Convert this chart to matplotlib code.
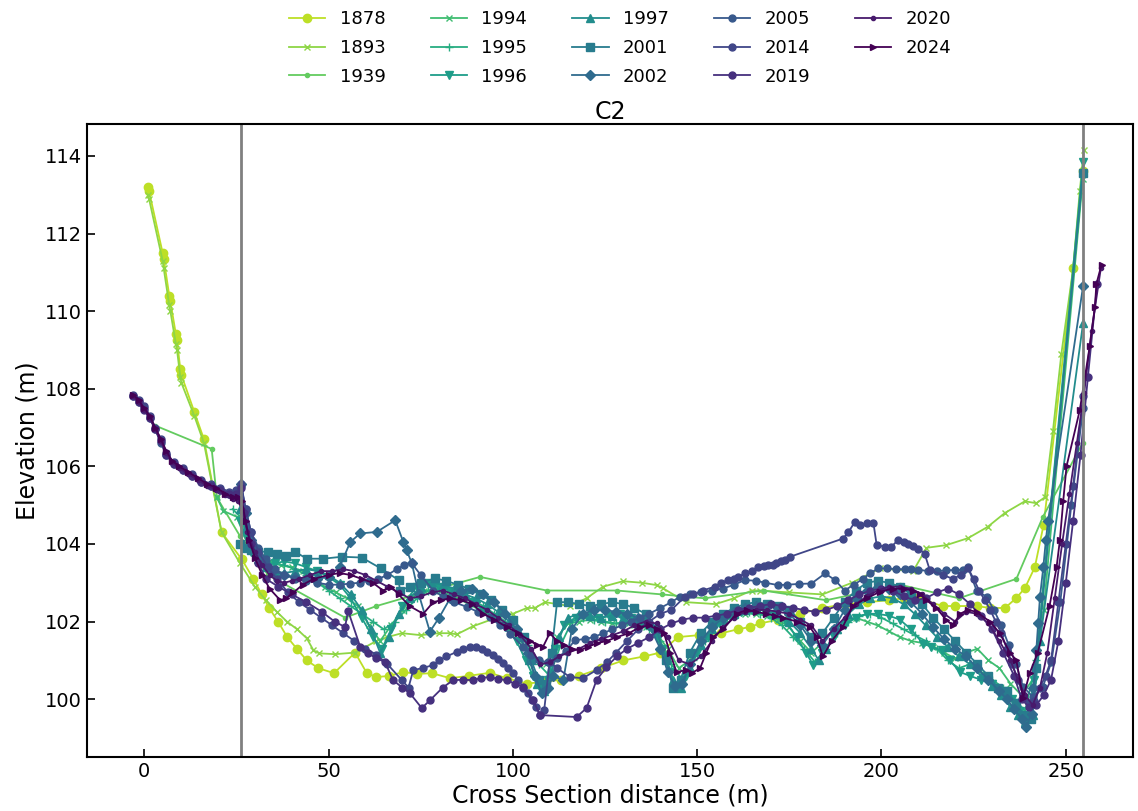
import numpy as np
import matplotlib.pyplot as plt

# Surveyed cross section C2, one profile per year
years = ['1878', '1893', '1939', '1994', '1995', '1996', '1997',
         '2001', '2002', '2005', '2014', '2019', '2020', '2024']
markers = ['o', 'x', '.', 'x', '+', 'v', '^', 's', 'D', 'o', 'o', 'o', '.', '>']

x_1878 = [1.0, 1.3, 5.0, 5.3, 6.8, 7.1, 8.6, 8.9, 9.8, 10.1, 13.6, 16.2, 21.0, 26.5, 29.6, 31.9,
          33.9, 36.3, 38.8, 41.4, 44.1, 47.2, 51.5, 57.2, 60.4, 63.0, 66.5, 70.3, 74.0, 78.0, 83.0,
          88.0, 93.8, 98.3, 103.8, 108.5, 113.0, 118.0, 124.0, 130.0, 135.5, 140.0, 144.8, 150.5,
          156.6, 161.0, 164.3, 167.0, 172.0, 178.0, 184.0, 190.0, 196.0, 202.0, 206.0, 210.0,
          216.6, 220.0, 225.8, 229.5, 233.5, 236.5, 238.9, 241.6, 244.0, 252.0, 254.6]
y_1878 = [113.2, 113.1, 111.5, 111.35, 110.4, 110.25, 109.4, 109.25, 108.5, 108.35, 107.4, 106.7,
          104.3, 103.6, 103.1, 102.7, 102.35, 102.0, 101.6, 101.3, 101.0, 100.8, 100.67, 101.2,
          100.67, 100.57, 100.6, 100.7, 100.65, 100.67, 100.54, 100.6, 100.68, 100.54, 100.4,
          100.45, 100.5, 100.6, 100.8, 101.0, 101.1, 101.2, 101.6, 101.65, 101.7, 101.8, 101.86,
          101.95, 102.05, 102.2, 102.35, 102.45, 102.5, 102.55, 102.6, 102.6, 102.4, 102.4, 102.4,
          102.35, 102.35, 102.6, 102.86, 103.4, 104.5, 111.1, 113.6]

x_1893 = [1.0, 1.3, 5.0, 5.3, 6.8, 7.1, 8.6, 8.9, 9.8, 10.1, 13.6, 16.2, 21.0, 26.0, 30.0, 33.0,
          36.0, 38.7, 41.5, 44.1, 45.9, 47.5, 51.8, 57.2, 63.0, 66.0, 69.9, 75.0, 80.0, 83.0, 84.8,
          89.2, 95.6, 100.0, 103.8, 106.0, 108.7, 115.5, 120.0, 124.5, 129.9, 135.0, 139.0, 140.7,
          147.0, 155.0, 160.0, 164.8, 167.0, 175.0, 184.0, 192.0, 199.6, 208.6, 212.2, 217.6,
          223.5, 228.8, 233.5, 238.9, 242.0, 244.3, 246.5, 248.8, 252.0, 253.8, 254.9]
y_1893 = [113.0, 112.9, 111.3, 111.1, 110.15, 110.0, 109.15, 109.0, 108.3, 108.15, 107.3, 106.6,
          104.3, 103.5, 102.9, 102.55, 102.25, 102.0, 101.8, 101.57, 101.26, 101.18, 101.16, 101.2,
          101.5, 101.6, 101.7, 101.65, 101.7, 101.7, 101.67, 101.88, 102.1, 102.2, 102.35, 102.35,
          102.5, 102.4, 102.6, 102.9, 103.04, 103.0, 102.94, 102.86, 102.5, 102.45, 102.6, 102.8,
          102.8, 102.75, 102.7, 103.0, 103.37, 103.3, 103.9, 103.97, 104.15, 104.44, 104.8, 105.1,
          105.05, 105.2, 106.9, 108.9, 111.1, 113.1, 114.15]

x_1939 = [3.0, 18.3, 19.7, 26.0, 33.6, 54.5, 63.0, 71.7, 91.1, 109.2, 128.2, 140.4, 152.0, 168.0,
          185.0, 205.0, 221.0, 236.6, 243.8, 254.6]
y_1939 = [107.05, 106.45, 105.2, 104.2, 103.2, 102.1, 102.4, 102.64, 103.15, 102.8, 102.8, 102.7,
          102.6, 102.8, 102.55, 102.95, 102.6, 103.1, 104.7, 106.6]

x_1994 = [19.7, 21.5, 25.1, 28, 31, 34, 37, 40, 43, 46, 49, 52, 55, 58, 61, 64, 67, 70, 73, 76, 79,
          82, 85, 88, 91, 94, 97, 100, 103, 106, 109, 112, 115, 118, 121, 124, 127, 130, 133, 136,
          139, 142, 145, 148, 151, 154, 157, 160, 163, 166, 169, 172, 175, 178, 181, 184, 187, 190,
          193, 196, 199, 202, 205, 208, 211, 214, 217, 220, 223, 226, 229, 232, 235, 238, 241, 244,
          254.6]
y_1994 = [105.2, 104.85, 104.7, 104.0, 103.7, 103.55, 103.45, 103.4, 103.3, 103.1, 102.9, 102.75,
          102.6, 102.4, 101.9, 101.5, 101.9, 102.3, 102.65, 102.8, 102.8, 102.7, 102.6, 102.45,
          102.3, 102.15, 101.95, 101.7, 101.4, 101.0, 100.9, 101.6, 101.95, 102.0, 102.05, 102.0,
          101.95, 101.95, 101.9, 101.85, 101.7, 101.3, 100.8, 101.0, 101.4, 101.8, 102.0, 102.15,
          102.2, 102.2, 102.15, 102.05, 101.85, 101.5, 101.2, 101.45, 101.8, 102.0, 102.1, 102.0,
          101.9, 101.75, 101.6, 101.5, 101.45, 101.35, 101.2, 101.05, 101.2, 101.3, 101.0, 100.8,
          100.4, 100.1, 100.5, 102.3, 113.4]

x_1995 = [24, 26, 28, 30, 32.5, 35, 38, 41, 44, 47, 50, 53, 56, 59, 62, 65, 68, 71, 74, 77, 80, 83,
          86, 89, 92, 95, 98, 101, 104, 107, 110, 113, 116, 119, 122, 125, 128, 131, 134, 137, 140,
          143, 146, 149, 152, 155, 158, 161, 164, 167, 170, 173, 176, 179, 182, 185, 188, 191, 194,
          197, 200, 203, 206, 209, 212, 215, 218, 221, 224, 227, 230, 233, 236, 239, 242, 254.6]
y_1995 = [104.9, 104.7, 104.2, 103.8, 103.55, 103.5, 103.45, 103.35, 103.2, 103.0, 102.8, 102.6,
          102.4, 102.2, 102.0, 101.8, 102.0, 102.3, 102.6, 102.8, 102.85, 102.8, 102.7, 102.55,
          102.4, 102.2, 102.0, 101.75, 101.4, 100.9, 100.6, 101.4, 102.0, 102.1, 102.05, 102.0,
          101.95, 102.0, 101.95, 101.8, 101.5, 100.9, 100.5, 101.0, 101.5, 101.9, 102.1, 102.2,
          102.25, 102.2, 102.1, 101.9, 101.6, 101.3, 100.95, 101.3, 101.7, 102.0, 102.15, 102.2,
          102.1, 101.95, 101.8, 101.65, 101.5, 101.3, 101.0, 100.8, 100.9, 100.7, 100.5, 100.3,
          100.0, 99.7, 101.0, 113.5]

x_1996 = [26, 27.5, 29, 31, 33, 35.5, 38, 41, 44, 47, 50, 53, 56, 59, 62, 64.5, 67, 70, 73.9, 77,
          80, 83, 86, 89, 92, 95, 98, 101, 103.5, 105.5, 107.5, 109.5, 111.5, 114, 117, 120, 123,
          126, 129, 132, 135, 138, 140.5, 142.5, 144.5, 147, 150, 153, 156, 159, 162, 165, 168,
          171, 174, 177, 179.5, 181.5, 184, 187, 190, 193, 196, 199, 202, 205, 208, 211.3, 213.5,
          216.3, 218.5, 221.3, 224, 227, 230, 233, 235.5, 237.5, 239.5, 241.5, 254.7]
y_1996 = [104.6, 104.2, 103.8, 103.55, 103.45, 103.5, 103.55, 103.5, 103.4, 103.3, 103.15, 102.95,
          102.6, 102.1, 101.6, 101.3, 101.8, 102.4, 102.9, 103.0, 102.9, 102.8, 102.65, 102.5,
          102.3, 102.1, 101.85, 101.5, 101.0, 100.6, 100.3, 100.5, 101.3, 101.9, 102.1, 102.15,
          102.1, 102.15, 102.2, 102.1, 102.0, 101.75, 101.3, 100.7, 100.35, 100.6, 101.2, 101.6,
          101.95, 102.15, 102.25, 102.3, 102.3, 102.2, 102.0, 101.6, 101.2, 100.88, 101.2, 101.6,
          101.9, 102.1, 102.2, 102.2, 102.15, 102.05, 101.8, 101.43, 101.35, 101.26, 101.0, 100.7,
          100.6, 100.5, 100.4, 100.2, 100.0, 99.7, 99.5, 100.5, 113.85]

x_1997 = [26, 27.5, 29, 31, 33, 35.5, 38, 41, 44, 47, 50, 53, 56, 59, 61.5, 64, 66.5, 69, 72, 75,
          78, 81, 84, 87, 90, 93, 96, 99, 102, 104.5, 106.5, 108.5, 110.5, 112.5, 115, 118, 121,
          124, 127, 130, 133, 136, 139, 141.5, 143.5, 145.5, 148, 151, 154, 157, 160, 163, 166,
          169, 172, 175, 178, 181, 183, 185, 188, 191, 194, 197, 200, 203, 206, 209, 212, 215,
          218, 221, 224, 227, 230, 232.5, 235, 237, 239, 241, 243, 254.7]
y_1997 = [104.9, 104.4, 103.9, 103.6, 103.4, 103.3, 103.25, 103.3, 103.35, 103.3, 103.2, 103.0,
          102.7, 102.3, 101.8, 101.2, 101.6, 102.2, 102.6, 102.9, 103.0, 102.95, 102.85, 102.7,
          102.6, 102.45, 102.25, 102.0, 101.6, 101.0, 100.4, 100.2, 100.7, 101.6, 102.1, 102.2,
          102.15, 102.1, 102.15, 102.1, 102.05, 101.95, 101.7, 101.1, 100.5, 100.3, 100.8, 101.4,
          101.8, 102.05, 102.2, 102.3, 102.35, 102.3, 102.2, 102.0, 101.7, 101.3, 101.0, 101.3,
          101.8, 102.2, 102.45, 102.6, 102.65, 102.6, 102.45, 102.2, 101.9, 101.6, 101.35, 101.1,
          100.9, 100.6, 100.35, 100.1, 99.8, 99.6, 99.4, 99.6, 101.5, 109.7]

x_2001 = [26, 27.5, 29, 31, 33.5, 36, 38.5, 40.9, 44.1, 48.6, 53.6, 59.0, 64.2, 69.0, 69.4, 72, 75,
          78.9, 82, 85, 88, 91, 94, 97, 100, 103, 105, 107, 109, 110.5, 112, 115, 118, 121, 124,
          127, 130, 133, 136, 139, 141.5, 143.5, 145.5, 148, 151, 154, 157, 160, 163, 166, 169,
          172, 175, 178, 181, 184, 187, 190, 193, 196, 199, 202, 205, 208, 211, 214, 217, 220,
          223, 226, 229, 231.5, 234, 236.5, 238.5, 240.5, 242, 254.6]
y_2001 = [104.0, 103.9, 103.85, 103.8, 103.8, 103.75, 103.7, 103.8, 103.62, 103.62, 103.67, 103.65,
          103.37, 103.07, 102.8, 102.9, 103.0, 103.11, 103.05, 102.95, 102.85, 102.7, 102.55,
          102.3, 102.05, 101.6, 101.0, 100.5, 100.4, 101.2, 102.5, 102.5, 102.45, 102.4, 102.45,
          102.5, 102.45, 102.35, 102.2, 101.8, 101.0, 100.3, 100.5, 101.2, 101.7, 102.0, 102.2,
          102.35, 102.45, 102.5, 102.45, 102.4, 102.3, 102.0, 101.6, 101.7, 102.1, 102.5, 102.8,
          103.0, 103.05, 103.0, 102.9, 102.7, 102.45, 102.1, 101.8, 101.5, 101.2, 100.9, 100.6,
          100.3, 100.2, 99.9, 99.6, 99.5, 100.8, 113.55]

x_2002 = [26.3, 27.5, 29, 31, 33, 35, 38, 41, 44, 47, 50, 53, 55.9, 58.6, 63.1, 68.1, 70.3, 71.2,
          72.6, 74.5, 77.5, 80, 83, 86, 89, 92, 95, 98, 101, 104, 106, 107.8, 109.5, 111, 113.7,
          116, 119, 122, 125, 128, 131, 134, 137, 140, 142, 144, 146, 148, 151, 154, 157, 160, 163,
          166, 169, 172, 175, 178, 181, 184, 187, 190, 193, 196, 199, 202, 205, 208, 211, 214, 217,
          220, 223, 226, 229, 232, 234, 236, 238, 239.3, 240.7, 241.2, 242, 242.5, 243, 243.9,
          244.6, 245.2, 254.7]
y_2002 = [105.55, 104.8, 104.1, 103.7, 103.45, 103.3, 103.2, 103.15, 103.1, 103.1, 103.15, 103.4,
          104.05, 104.27, 104.31, 104.61, 104.05, 103.84, 103.5, 102.7, 101.74, 102.1, 102.6,
          102.8, 102.85, 102.7, 102.5, 102.2, 101.8, 101.2, 100.6, 100.15, 100.3, 100.6, 100.49,
          101.8, 102.2, 102.3, 102.3, 102.25, 102.2, 102.1, 101.9, 101.3, 100.7, 100.35, 100.4,
          100.9, 101.5, 101.85, 102.1, 102.25, 102.35, 102.4, 102.4, 102.35, 102.2, 101.9, 101.5,
          101.4, 101.8, 102.3, 102.6, 102.8, 102.9, 102.85, 102.7, 102.5, 102.2, 101.85, 101.55,
          101.3, 101.1, 100.8, 100.5, 100.2, 100.0, 99.75, 99.5, 99.29, 99.63, 100.3, 101.26,
          101.95, 102.64, 103.4, 104.1, 104.6, 110.65]

x_2005 = [-3, -1.5, 0, 1.5, 3, 4.5, 6, 8, 10.5, 13, 15.5, 18, 20.5, 23, 25, 26.3, 27.5, 29, 31, 33,
          35.5, 38, 41, 44, 47, 50, 53, 55.9, 58.5, 61, 63.5, 66, 68.5, 70.5, 72.6, 75, 78.4, 81,
          84, 87.5, 90.5, 93.8, 96.5, 99.2, 102.8, 105, 107.1, 109.5, 112, 114.5, 116.9, 119.5,
          122, 124.5, 127, 129.5, 132, 134.5, 137, 140, 143, 145.3, 148, 151, 154, 157, 160, 163,
          166, 168.5, 171.9, 174.5, 177.5, 181, 184.7, 187.4, 190, 192.5, 195, 197, 199.1, 201.5,
          204, 206.5, 208, 210, 212.5, 215, 217.5, 220, 222.2, 223.5, 225.8, 228.5, 230.5, 232.5,
          234.5, 236.5, 238.4, 241.1, 243.8, 246.1, 248.5, 251.5, 254.7]
y_2005 = [107.8, 107.65, 107.5, 107.25, 106.95, 106.6, 106.3, 106.05, 105.9, 105.75, 105.6, 105.5,
          105.4, 105.3, 105.35, 105.5, 104.9, 104.3, 103.9, 103.6, 103.35, 103.2, 103.1, 103.05,
          103.0, 102.95, 102.95, 102.98, 103.0, 103.05, 103.1, 103.2, 103.35, 103.45, 103.5, 103.2,
          102.8, 102.65, 102.5, 102.38, 102.25, 102.12, 101.9, 101.69, 101.35, 101.15, 101.0,
          100.95, 101.05, 101.25, 101.52, 101.55, 101.6, 101.7, 101.8, 101.9, 102.0, 102.1, 102.2,
          102.35, 102.5, 102.64, 102.7, 102.75, 102.8, 102.85, 102.95, 103.07, 103.05, 103.0,
          102.94, 102.95, 102.97, 102.98, 103.24, 103.07, 102.8, 102.95, 103.1, 103.25, 103.37,
          103.37, 103.35, 103.35, 103.35, 103.34, 103.3, 103.3, 103.32, 103.33, 103.33, 103.4,
          102.8, 102.64, 102.3, 101.9, 101.4, 100.9, 100.32, 100.06, 100.32, 100.96, 102.5, 105.0,
          107.5]

x_2014 = [-3, -1.5, 0, 1.5, 3, 4.5, 6, 8, 10.5, 13, 15.5, 18, 20.5, 23, 25, 26.3, 27.5, 29, 31,
          33.5, 36, 39, 42, 45, 48, 51, 54, 57, 60, 63, 66, 69.9, 71.7, 73, 75.5, 78.4, 80, 82,
          84.8, 86.5, 88.4, 90, 91.6, 93, 94.6, 96, 97.4, 98.7, 100, 101.5, 102.8, 104, 105.1,
          106.3, 107.4, 108.5, 110, 112, 115.5, 119, 122.7, 125.5, 128, 131, 134, 137, 140, 143,
          146.7, 149, 151.5, 154.8, 156.5, 158.4, 160, 161.1, 163, 164.8, 166.6, 168, 169.3, 170.5,
          171.5, 172.7, 173.8, 175.2, 189.6, 191, 192.8, 194.1, 196, 197.8, 198.7, 200.9, 202.7,
          204.5, 206, 207.2, 208.6, 210, 211.7, 213.1, 216.7, 219.4, 221.5, 223.5, 225, 226.5, 228,
          229.5, 231, 232.5, 234, 235.5, 237, 238.5, 240, 241.5, 243, 244.5, 246, 248, 250, 252,
          254.7]
y_2014 = [107.85, 107.7, 107.55, 107.3, 107.0, 106.7, 106.35, 106.1, 105.95, 105.8, 105.65, 105.55,
          105.45, 105.35, 105.4, 105.55, 104.9, 104.3, 103.8, 103.4, 103.1, 102.75, 102.5, 102.3,
          102.1, 101.9, 101.7, 101.5, 101.3, 101.15, 100.9, 100.49, 100.3, 100.75, 100.8, 100.88,
          101.0, 101.1, 101.22, 101.3, 101.35, 101.35, 101.3, 101.22, 101.13, 101.03, 100.92, 100.8,
          100.67, 100.5, 100.3, 100.15, 99.97, 99.8, 99.59, 99.72, 100.96, 100.8, 100.57, 100.54,
          100.75, 100.95, 101.2, 101.5, 101.8, 102.0, 102.2, 102.3, 102.64, 102.7, 102.8, 102.9,
          103.0, 103.07, 103.1, 103.15, 103.24, 103.3, 103.41, 103.43, 103.45, 103.47, 103.5,
          103.55, 103.58, 103.67, 104.14, 104.3, 104.57, 104.49, 104.53, 104.55, 103.97, 103.93,
          103.93, 104.1, 104.05, 104.0, 103.95, 103.88, 103.75, 103.33, 103.2, 103.1, 103.2, 103.37,
          103.1, 102.8, 102.55, 102.3, 102.0, 101.7, 101.3, 100.9, 100.5, 100.1, 99.9, 99.95, 100.3,
          100.6, 101.0, 102.5, 104.0, 105.5, 107.8]

x_2019 = [-3, -1.5, 0, 1.5, 3, 4.5, 6, 8, 10.5, 13, 15.5, 18, 20.5, 23, 25, 26.3, 27, 29, 31, 33,
          36.4, 40, 44, 48.2, 51.8, 54.5, 55.3, 58.6, 60.8, 63, 65.3, 67.5, 70, 72.1, 75.3, 77.5,
          81, 83.8, 86.5, 89.2, 91.5, 93.8, 96, 98.3, 100.5, 102.8, 105.5, 107.4, 117.3, 120, 122.7,
          125.4, 128.2, 131, 134, 137, 140, 143, 146, 149, 152, 155, 158, 161, 164, 167, 170, 173,
          176, 179, 182, 185, 188, 191, 194, 197, 200, 203, 206, 209, 212, 215, 218, 221, 224, 227,
          230, 233, 236, 238, 240, 242, 244, 246, 248, 250, 252, 254, 256, 258.5]
y_2019 = [107.8, 107.65, 107.45, 107.25, 106.95, 106.65, 106.3, 106.05, 105.9, 105.75, 105.6, 105.5,
          105.4, 105.3, 105.3, 105.45, 104.8, 104.0, 103.5, 103.1, 102.9, 102.7, 102.5, 102.25,
          101.99, 101.86, 102.28, 101.35, 101.18, 101.05, 100.96, 100.49, 100.3, 100.15, 99.77,
          99.97, 100.3, 100.49, 100.5, 100.49, 100.55, 100.57, 100.52, 100.49, 100.4, 100.32, 99.97,
          99.59, 99.54, 99.77, 100.49, 100.83, 101.1, 101.3, 101.45, 101.6, 101.8, 101.95, 102.05,
          102.1, 102.1, 102.15, 102.2, 102.3, 102.35, 102.4, 102.45, 102.4, 102.35, 102.3, 102.25,
          102.3, 102.4, 102.55, 102.7, 102.8, 102.85, 102.8, 102.65, 102.55, 102.6, 102.75, 102.85,
          102.7, 102.45, 102.15, 101.8, 101.2, 100.6, 100.0, 99.8, 99.85, 100.1, 100.5, 101.5,
          103.0, 104.6, 106.3, 108.3, 110.7]

x_2020 = [-3, -1.5, 0, 1.5, 3, 4.5, 6, 7.5, 9.5, 12, 14.5, 17, 19.5, 22, 24, 25.5, 26.5, 28, 30,
          32, 34, 36, 38, 40, 42, 45, 48, 51, 54, 57, 60, 63, 66, 69, 72, 75, 78, 81, 84, 87, 90,
          93, 96, 99, 102, 105, 107.5, 110, 112.5, 115, 118, 121, 124, 127, 130, 133, 136, 139,
          142, 145, 148, 151, 154, 157, 160, 163, 166, 169, 172, 175, 178, 181, 184, 187, 190, 193,
          196, 199, 202, 205, 208, 211, 214, 217, 220, 223, 226, 229, 232, 235, 237, 239, 241, 243,
          245, 247, 249, 251, 253, 255, 257, 259.5]
y_2020 = [107.8, 107.65, 107.45, 107.25, 106.95, 106.65, 106.35, 106.1, 105.95, 105.8, 105.65, 105.5,
          105.4, 105.25, 105.15, 105.1, 104.9, 104.3, 103.8, 103.45, 103.2, 103.05, 103.0, 103.05,
          103.1, 103.2, 103.3, 103.3, 103.35, 103.3, 103.2, 103.05, 102.9, 102.75, 102.6, 102.65,
          102.75, 102.8, 102.7, 102.6, 102.45, 102.3, 102.1, 101.9, 101.65, 101.3, 100.9, 100.95,
          101.1, 101.2, 101.3, 101.45, 101.55, 101.65, 101.75, 101.9, 102.0, 101.95, 101.6, 101.0,
          100.9, 101.1, 101.5, 101.85, 102.1, 102.25, 102.3, 102.3, 102.25, 102.2, 102.05, 101.9,
          101.5, 101.8, 102.1, 102.45, 102.65, 102.8, 102.9, 102.9, 102.85, 102.7, 102.45, 102.2,
          102.0, 102.25, 102.2, 101.95, 101.5, 101.0, 100.5, 100.1, 99.85, 100.3, 101.2, 102.6,
          104.0, 105.3, 106.6, 107.9, 109.5, 111.1]

x_2024 = [-3, -1.5, 0, 1.5, 3, 4.5, 6, 7.5, 9.5, 12, 14.5, 17, 19.5, 22, 24, 25.5, 26.5, 27.5, 28.5,
          30, 32, 34, 36.9, 38.5, 40.5, 43, 46, 50, 53, 56, 59, 62, 64.8, 67, 69, 72, 75.7, 78.4,
          80.5, 83, 86, 89, 92, 95, 98.3, 101.5, 104.7, 106.5, 108.2, 110, 112, 114, 116, 118.2,
          120.5, 122.7, 125.5, 128.2, 131.5, 134.5, 137, 139, 141, 142.6, 144.4, 147.1, 148.5,
          150.8, 152.5, 154.3, 157, 160.7, 163.4, 166, 168.8, 171, 173.3, 177, 180.6, 182.4, 184.1,
          186.5, 189.5, 192.2, 196, 199.6, 203.1, 206, 208.6, 210.5, 212.2, 214.9, 217.6, 219.4,
          221.3, 223.5, 225.8, 229.4, 232.1, 234.8, 236.6, 238.4, 240.2, 242.4, 245.6, 247.5, 248.4,
          249.3, 250.2, 253.8, 256.5, 257.9, 258.3, 259.7]
y_2024 = [107.85, 107.7, 107.5, 107.3, 107.0, 106.7, 106.4, 106.15, 106.0, 105.85, 105.7, 105.55,
          105.45, 105.3, 105.2, 105.2, 105.1, 104.6, 104.1, 103.65, 103.2, 102.85, 102.55, 102.6,
          102.75, 102.95, 103.1, 103.2, 103.25, 103.2, 103.1, 103.0, 102.8, 102.9, 102.7, 102.4,
          102.2, 102.5, 102.55, 102.6, 102.55, 102.45, 102.2, 102.05, 101.86, 101.7, 101.5, 101.4,
          101.35, 101.7, 101.5, 101.4, 101.3, 101.26, 101.35, 101.44, 101.5, 101.6, 101.7, 101.86,
          101.9, 101.8, 101.7, 101.2, 100.7, 100.75, 100.67, 100.8, 101.2, 101.6, 101.8, 102.2,
          102.3, 102.25, 102.2, 102.15, 102.1, 102.0, 101.86, 101.6, 101.1, 101.5, 101.86, 102.4,
          102.6, 102.77, 102.85, 102.85, 102.8, 102.7, 102.55, 102.35, 102.04, 101.9, 102.2, 102.3,
          102.25, 102.0, 101.7, 101.2, 101.0, 100.03, 100.67, 101.2, 102.4, 103.4, 104.1, 105.1,
          106.0, 107.45, 109.1, 110.1, 110.7, 111.2]

xs = [x_1878, x_1893, x_1939, x_1994, x_1995, x_1996, x_1997,
      x_2001, x_2002, x_2005, x_2014, x_2019, x_2020, x_2024]
ys = [y_1878, y_1893, y_1939, y_1994, y_1995, y_1996, y_1997,
      y_2001, y_2002, y_2005, y_2014, y_2019, y_2020, y_2024]

# active channel limits
bank_left = 26.3
bank_right = 254.8

colors = plt.cm.viridis(np.linspace(0.9, 0, len(years)))
sizes = {'o': 5, 'x': 5, '.': 6, '+': 6, 'v': 5.5, '^': 5.5, 's': 5.5, 'D': 5.5, '>': 5}

fig = plt.figure(figsize=(11.38, 8.11), dpi=100)
ax = fig.add_axes([0.0765, 0.0666, 0.919, 0.7804])

for yr, mk, c, x, y in zip(years, markers, colors, xs, ys):
    ms = sizes[mk]
    if yr == '1878':
        ms = 6
    ax.plot(x, y, marker=mk, color=c, markersize=ms, linewidth=1.3, label=yr)

ax.axvline(bank_left, color='gray', linewidth=2)
ax.axvline(bank_right, color='gray', linewidth=2)

ax.set_xlim(-15.5, 268.2)
ax.set_ylim(98.51, 114.82)
ax.set_xticks([0, 50, 100, 150, 200, 250])
ax.set_yticks([100, 102, 104, 106, 108, 110, 112, 114])
ax.tick_params(direction='in', length=6, width=1.2, labelsize=14)
for s in ax.spines.values():
    s.set_linewidth(1.5)

ax.set_xlabel('Cross Section distance (m)', fontsize=17, labelpad=2)
ax.set_ylabel('Elevation (m)', fontsize=17, labelpad=4)
ax.set_title('C2', fontsize=17, pad=3)

ax.legend(ncol=5, loc='lower center', bbox_to_anchor=(0.51, 1.035), frameon=False,
          fontsize=13, columnspacing=2.5, handlelength=2.0, labelspacing=0.6)

fig.savefig('out.png', dpi=100)
